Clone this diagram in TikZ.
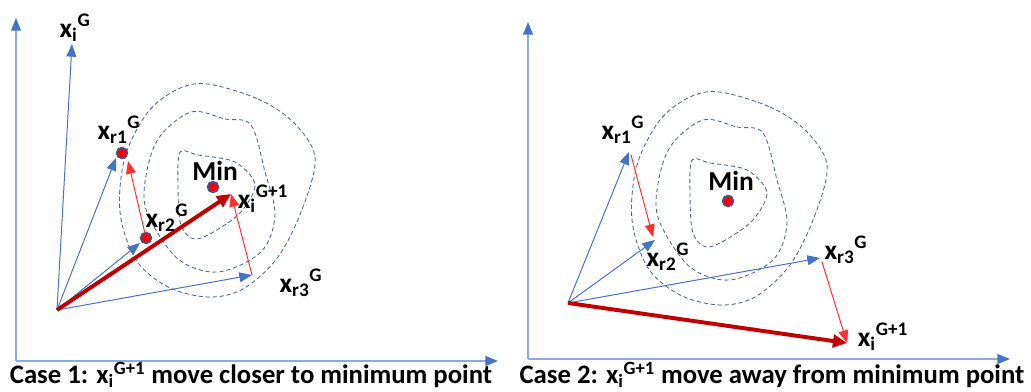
\documentclass[tikz,border=0pt]{standalone}
\usepackage{fontspec}
\setmainfont{Carlito}
\usetikzlibrary{arrows.meta}
\definecolor{vecblue}{HTML}{4472C4}
\definecolor{axisblue}{HTML}{8FAADC}
\definecolor{levelblue}{HTML}{4A6590}
\definecolor{stepred}{HTML}{FF3030}
\definecolor{movered}{HTML}{C00000}
\newcommand{\xlab}[2]{x\textsubscript{#1}\textsuperscript{#2}}

\begin{document}
\begin{tikzpicture}[x=0.025cm,y=-0.025cm,
  font=\bfseries\fontsize{19.5}{22}\selectfont,
  axis/.style={draw=axisblue,line width=1.1pt,
    -{Triangle[length=9pt,width=7pt,color=vecblue]}},
  vec/.style={vecblue,line width=0.7pt,-{Triangle[length=9pt,width=7pt]}},
  diff/.style={stepred,line width=0.7pt,-{Triangle[length=9pt,width=7pt]}},
  trial/.style={movered,line width=2.8pt,-{Triangle[length=10pt,width=9pt]}},
  level/.style={levelblue,line width=0.6pt,dash pattern=on 3pt off 2pt},
  dot/.style={circle,fill=red,draw=vecblue!80!black,line width=1.1pt,
    inner sep=0pt,minimum size=7.8pt},
  caption/.style={font=\bfseries\fontsize{19}{22}\selectfont,inner sep=0pt}]
  \useasboundingbox (0,0) rectangle (1031,392);

  % contour lines, same shape in both panels
  \foreach \dx/\dy in {-512/-8,0/0}{
    \begin{scope}[shift={(\dx,\dy)}]
      \draw[level] plot[smooth cycle,tension=0.55] coordinates
        {(720,92) (770,107) (805,130) (827,165) (815,215) (790,265)
         (755,297) (720,305) (680,295) (648,268) (632,220) (637,165)
         (660,120) (690,97)};
      \draw[level] plot[smooth cycle,tension=0.55] coordinates
        {(703,120) (737,127) (763,133) (777,180) (787,223) (773,260)
         (730,280) (690,267) (660,223) (657,190) (670,147)};
      \draw[level] plot[smooth cycle,tension=0.5] coordinates
        {(692,160) (710,163) (747,170) (767,193) (750,223) (710,247)
         (693,233) (690,193)};
    \end{scope}
  }

  % ---- case 1
  \coordinate (y1) at (16,18);
  \coordinate (c1) at (16,361);
  \coordinate (x1) at (498,361);
  \draw[axis] (c1) -- (y1);
  \draw[axis] (c1) -- (x1);

  \coordinate (o1) at (57,310);
  \coordinate (xi1) at (72,44);
  \coordinate (ra1) at (116,158);
  \coordinate (rb1) at (140,243);
  \coordinate (rc1) at (252,275);
  \coordinate (new1) at (231,194);
  \node[dot] (da1) at (122,153) {};
  \node[dot] (db1) at (146,238) {};
  \node[dot] (min1) at (213,187) {};

  \draw[vec] (o1) -- (xi1);
  \draw[vec] (o1) -- (ra1);
  \draw[vec] (o1) -- (rb1);
  \draw[vec] (o1) -- (rc1);
  \draw[diff] (db1) -- (128,161);
  \draw[diff] (rc1) -- (new1);
  \draw[trial] (o1) -- (new1);

  \node (lxi1) at (75,28) {\xlab{i}{G}};
  \node (lra1) at (119,130) {\xlab{r1}{G}};
  \node (lrb1) at (167,218) {\xlab{r2}{G}};
  \node (lrc1) at (301,283) {\xlab{r3}{G}};
  \node (lmin1) at (215,171) {Min};
  \node (lnew1) at (263,199) {\xlab{i}{G+1}};
  \node[caption] (cap1) at (251,375) {Case 1: \xlab{i}{G+1} move closer to minimum point};

  % ---- case 2
  \coordinate (y2) at (528,22);
  \coordinate (c2) at (528,359);
  \coordinate (x2) at (1010,359);
  \draw[axis] (c2) -- (y2);
  \draw[axis] (c2) -- (x2);

  \coordinate (o2) at (568,303);
  \coordinate (ra2) at (629,152);
  \coordinate (rb2) at (655,240);
  \coordinate (rc2) at (820,258);
  \coordinate (new2) at (847,343);
  \node[dot] (min2) at (728,201) {};

  \draw[vec] (o2) -- (ra2);
  \draw[vec] (o2) -- (rb2);
  \draw[vec] (o2) -- (rc2);
  \draw[diff] (631,155) -- (653,237);
  \draw[diff] (822,262) -- (new2);
  \draw[trial] (o2) -- (new2);

  \node (lra2) at (623,130) {\xlab{r1}{G}};
  \node (lrb2) at (668,257) {\xlab{r2}{G}};
  \node (lrc2) at (846,250) {\xlab{r3}{G}};
  \node (lmin2) at (731,181) {Min};
  \node (lnew2) at (883,337) {\xlab{i}{G+1}};
  \node[caption] (cap2) at (772,375) {Case 2: \xlab{i}{G+1} move away from minimum point};
\end{tikzpicture}
\end{document}
